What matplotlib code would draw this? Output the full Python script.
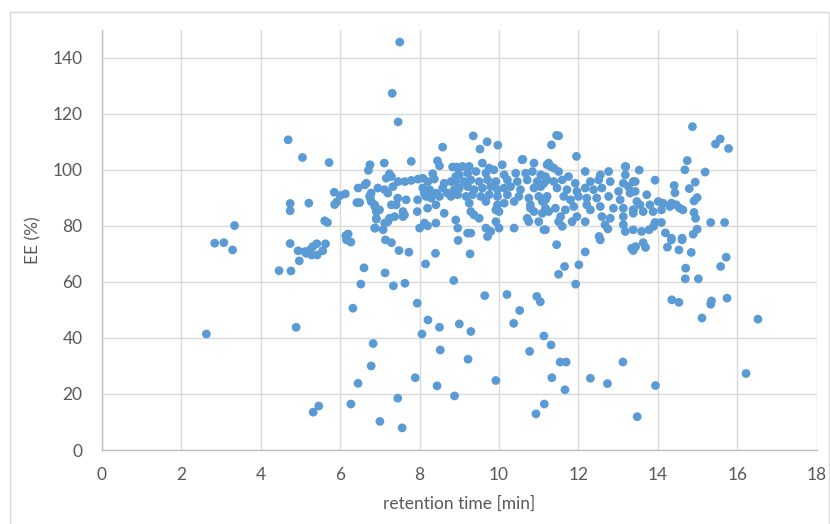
import matplotlib
matplotlib.use("Agg")
import matplotlib.pyplot as plt
from matplotlib.patches import Rectangle

# retention time [min]
rt_left = [2.63, 2.84, 3.07, 3.29, 3.34, 4.46, 4.76, 4.74, 4.69, 4.74, 4.74, 4.89,
           4.94, 5.11, 5.14, 5.24, 5.31, 5.41, 5.63, 5.56, 5.42, 5.28, 4.97,
           5.05, 5.21, 5.72, 5.61, 5.68, 5.85, 6.13, 6.00, 5.86, 5.91, 6.42, 6.49,
           6.45, 6.62, 6.75, 6.71, 6.78, 6.76, 6.87, 6.91, 6.91, 6.88,
           6.14, 6.20, 6.27, 6.16, 6.60, 6.52, 6.32, 6.83, 6.78, 6.45, 5.46, 5.32, 6.27]
ee_left = [41.4, 73.8, 74.0, 71.4, 80.1, 64.0, 63.9, 73.7, 110.7, 88.0, 85.4, 43.8,
           71.1, 70.8, 70.2, 71.4, 72.6, 73.6, 73.6, 71.1, 69.6, 69.6, 67.5,
           104.4, 88.1, 102.6, 81.8, 81.2, 92.0, 91.4, 90.8, 87.6, 88.5, 88.3, 88.3,
           93.5, 94.6, 101.8, 99.8, 91.7, 89.9, 87.5, 85.1, 82.4, 79.2,
           76.5, 77.1, 74.2, 75.0, 65.0, 59.2, 50.6, 38.0, 30.0, 23.8, 15.7, 13.5, 16.4]

rt_low = [7.29, 7.14, 7.48, 7.73, 8.40, 8.15, 8.97, 9.27, 7.13, 7.34, 7.63, 8.86, 7.94, 8.21,
          8.50, 8.06, 9.00, 9.29, 9.64, 10.20, 10.52, 10.37, 10.95, 11.04, 11.45, 11.65, 11.50,
          11.13, 11.31, 10.77, 8.52, 9.22, 7.89, 8.44, 8.88, 9.92, 11.54, 11.69, 11.33, 11.66,
          11.14, 10.93, 7.45, 7.00, 7.56,
          12.17, 12.01, 11.93, 12.55, 13.34, 13.44, 13.38, 13.63, 13.69, 14.24, 14.53, 14.34,
          14.61, 14.84, 14.70, 14.69, 15.02, 15.58, 15.72, 14.35, 14.53, 15.11, 15.35, 15.33,
          15.74, 16.52, 12.30, 12.73, 13.12, 13.94, 13.48, 16.22]
ee_low = [74.0, 75.0, 71.2, 70.6, 70.2, 66.4, 74.8, 70.0, 63.2, 58.6, 59.5, 60.5, 52.4, 46.4,
          43.8, 41.4, 45.0, 42.3, 55.1, 55.5, 49.8, 45.2, 54.8, 52.9, 73.3, 65.5, 62.7,
          40.7, 37.5, 35.2, 35.7, 32.4, 25.8, 22.9, 19.3, 24.8, 31.4, 31.4, 25.8, 21.5,
          16.4, 12.9, 18.5, 10.2, 7.9,
          70.7, 66.1, 59.2, 75.0, 72.0, 72.6, 71.2, 74.0, 72.3, 72.4, 71.4, 75.0,
          75.0, 70.5, 64.9, 61.1, 61.1, 65.5, 68.8, 53.6, 52.7, 47.1, 53.2, 52.0,
          54.2, 46.7, 25.6, 23.7, 31.4, 23.0, 11.9, 27.3]

rt_high = [7.50, 7.31, 7.46, 9.35, 9.70, 9.52, 9.97, 8.58, 11.45, 11.32, 7.79, 7.11, 10.60,
           8.45, 8.50, 14.87, 15.57, 15.45, 15.78, 11.95, 14.74, 14.68, 15.19, 13.93, 13.19,
           13.53, 14.41, 14.43, 14.94, 14.79, 14.99, 14.91, 15.33, 15.68, 14.91, 14.95, 14.99,
           14.89, 14.61, 14.19, 14.34, 13.93, 14.09, 13.59, 13.78, 13.89, 12.52, 12.74, 12.67,
           11.59, 11.50, 11.50]
ee_high = [145.6, 127.3, 117.1, 112.1, 110.0, 107.4, 108.8, 108.1, 112.3, 108.9, 103.0, 102.4, 103.7,
           103.2, 101.4, 115.4, 111.0, 109.2, 107.6, 104.8, 103.3, 100.0, 99.2, 96.3, 101.1,
           99.9, 94.4, 91.8, 95.6, 93.3, 90.1, 88.9, 81.2, 81.2, 84.8, 82.7, 78.8,
           77.0, 75.6, 77.5, 75.6, 81.2, 81.2, 78.0, 78.6, 79.8, 76.2, 78.9, 80.4,
           79.8, 81.5, 112.1]

rt_core_a = [8.83, 8.94,
             7.24, 7.29, 7.16, 7.46, 7.63, 7.79, 7.96, 8.08, 8.21, 8.33, 8.37, 8.62, 8.79, 8.91,
             6.66, 6.95, 7.12, 7.20, 7.33, 8.08, 8.12, 8.25, 8.41, 8.58, 8.70, 8.87,
             6.74, 6.78, 7.45, 7.66, 7.95, 8.16, 8.29, 8.50, 8.79,
             6.87, 6.99, 7.29, 7.41, 7.58, 7.62, 7.94, 8.20, 8.41, 8.62,
             6.91, 7.24, 7.37, 7.58, 7.12, 7.20, 8.12, 8.41, 8.91,
             6.87, 7.08, 8.00, 8.20, 8.96]
ee_core_a = [101.0, 101.0,
             98.6, 97.6, 97.0, 95.8, 95.8, 96.2, 96.7, 97.0, 95.8, 98.6, 96.7, 95.2, 95.8, 97.6,
             95.2, 93.5, 92.9, 91.7, 94.0, 93.5, 91.7, 92.9, 91.7, 93.5, 91.7, 92.9,
             90.5, 88.7, 89.9, 89.3, 89.3, 90.5, 89.9, 90.5, 90.5,
             86.9, 85.7, 87.5, 87.5, 85.1, 83.9, 85.1, 86.3, 87.5, 84.5,
             82.7, 82.7, 83.3, 83.3, 81.0, 81.5, 81.0, 81.0, 82.1,
             79.2, 78.6, 79.2, 80.0, 79.2]

rt_core_b = [9.25, 9.58, 9.75, 10.08, 10.58, 10.88, 11.21, 8.96, 9.08,
             9.00, 9.21, 9.42, 9.67, 9.87, 10.13, 10.42, 10.67, 10.84, 11.05, 11.17,
             8.91, 9.12, 9.29, 9.50, 9.71, 9.92, 10.21, 10.46, 10.71, 10.96, 11.13,
             9.00, 9.21, 9.37, 9.58, 9.79, 9.96, 10.13, 10.29, 10.54, 10.88, 11.05,
             8.96, 9.17, 9.33, 9.54, 9.75, 9.96, 10.21, 10.50, 10.75, 11.00, 11.17,
             9.25, 9.67, 9.96, 10.13, 10.38, 10.79, 11.09,
             9.29, 9.37, 9.92, 10.00, 10.79, 10.88, 11.09, 11.17,
             9.50, 9.92, 10.71, 10.75, 11.00,
             9.67, 9.79, 10.00, 10.38, 11.13,
             9.21, 9.29, 9.71]
ee_core_b = [101.2, 102.4, 100.6, 101.8, 103.6, 102.4, 101.8, 100.6, 101.2,
             98.2, 98.8, 99.4, 98.8, 100.0, 98.2, 98.8, 98.8, 99.4, 98.2, 97.6,
             95.8, 95.8, 96.4, 95.8, 96.4, 95.8, 96.4, 95.8, 96.4, 95.8, 95.2,
             93.5, 94.0, 92.9, 93.5, 94.0, 92.9, 93.5, 94.0, 92.9, 93.5, 94.0,
             91.1, 90.5, 91.1, 90.5, 91.1, 90.5, 91.1, 90.5, 89.9, 90.5, 89.3,
             88.1, 88.7, 87.5, 88.1, 88.7, 87.5, 88.7,
             85.1, 83.9, 85.7, 85.1, 86.3, 85.1, 84.5, 86.3,
             82.7, 81.5, 82.7, 81.5, 81.5,
             79.2, 78.0, 79.2, 79.2, 78.6,
             77.4, 77.4, 76.2]

rt_core_c = [11.25, 11.30, 11.38, 11.50, 11.75, 12.17, 12.55, 12.76, 13.18, 13.18, 13.38,
             11.21, 11.38, 11.59, 11.92, 12.30, 12.51, 12.80, 13.13, 13.26,
             11.46, 11.71, 11.96, 12.17, 12.38, 12.59, 13.01, 13.30, 13.43,
             11.21, 11.63, 11.80, 12.00, 12.21, 12.46, 12.76, 13.05,
             11.25, 11.42, 11.67, 11.88, 12.21, 12.30, 12.55, 12.88, 13.13, 13.38,
             11.55, 11.84, 11.96, 12.17, 12.59, 12.80, 13.13, 13.38,
             11.17, 13.13, 13.18,
             13.43, 13.72, 13.47, 13.55, 13.38, 13.63, 13.80, 13.88, 14.01, 14.13, 14.09,
             14.34, 14.46, 14.55, 14.63, 14.30, 13.38]
ee_core_c = [102.4, 101.2, 100.6, 99.4, 97.6, 99.4, 98.2, 99.4, 101.2, 98.2, 95.8,
             96.4, 95.8, 96.4, 95.2, 95.8, 96.4, 95.8, 95.2, 94.0,
             93.5, 92.9, 92.3, 93.5, 92.9, 93.5, 92.3, 91.7, 92.3,
             90.5, 90.5, 89.3, 90.5, 89.9, 89.9, 90.5, 89.3,
             85.1, 86.3, 85.7, 86.9, 87.5, 85.7, 86.9, 86.3, 86.3, 85.7,
             83.3, 81.5, 83.3, 81.5, 83.3, 82.7, 83.3, 84.5,
             78.6, 80.4, 78.0,
             95.8, 91.1, 88.7, 87.5, 85.7, 85.1, 87.5, 85.1, 88.7, 88.1, 85.7,
             88.1, 87.5, 86.3, 85.7, 86.9, 78.6]

rt = rt_left + rt_low + rt_high + rt_core_a + rt_core_b + rt_core_c
ee = ee_left + ee_low + ee_high + ee_core_a + ee_core_b + ee_core_c

x_ticks = [0, 2, 4, 6, 8, 10, 12, 14, 16, 18]
y_ticks = [0, 20, 40, 60, 80, 100, 120, 140]

plt.rcParams['font.family'] = ['Lato', 'DejaVu Sans']

fig = plt.figure(figsize=(8.30, 5.24), dpi=100)
ax = fig.add_axes([0.1228, 0.1412, 0.984 - 0.1228, 0.9433 - 0.1412])

ax.scatter(rt, ee, s=40, color='#5B9BD5', edgecolors='none', zorder=3)

ax.set_xlim(0, 18)
ax.set_ylim(0, 150)
ax.set_xticks(x_ticks)
ax.set_yticks(y_ticks)
ax.grid(True, color='#D9D9D9', linewidth=1.0, zorder=0)
ax.set_axisbelow(True)
for s in ['top', 'right']:
    ax.spines[s].set_visible(False)
for s in ['left', 'bottom']:
    ax.spines[s].set_color('#BFBFBF')
    ax.spines[s].set_linewidth(1.0)
ax.tick_params(axis='both', length=0, labelsize=12.5, labelcolor='#595959')
ax.tick_params(axis='y', pad=14)
ax.tick_params(axis='x', pad=12)
ax.set_xlabel('retention time [min]', fontsize=12.5, color='#595959', labelpad=9)
ax.set_ylabel('EE (%)', fontsize=12.5, color='#595959', labelpad=8)

fig.patches.append(Rectangle((9.5 / 830, -0.01), (829 - 9.5) / 830, (524 - 11.5) / 524 + 0.01,
                             transform=fig.transFigure, fill=False, edgecolor='#D9D9D9',
                             linewidth=1.0))

fig.savefig('out.png', dpi=100)
